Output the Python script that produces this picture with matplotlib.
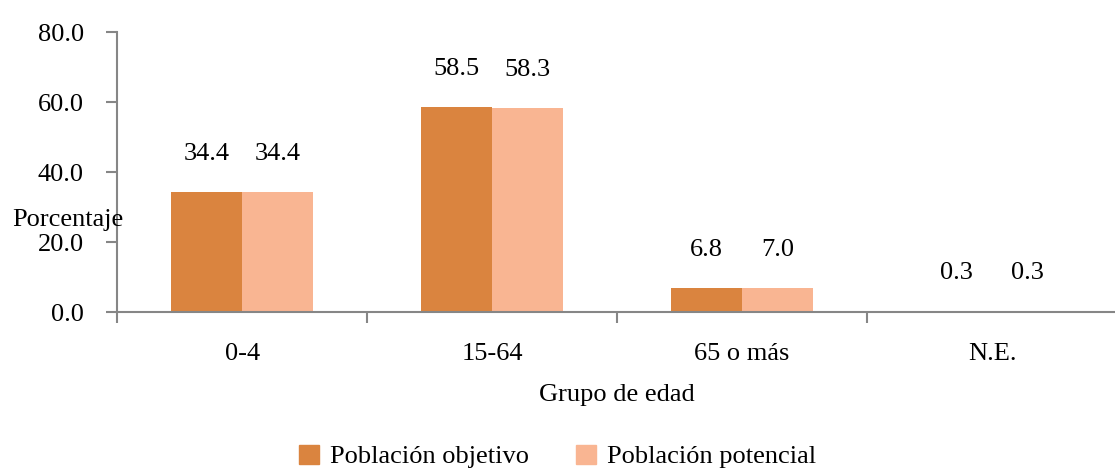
import numpy as np
import matplotlib.pyplot as plt
from matplotlib.patches import Patch

plt.rcParams['font.family'] = ['Liberation Serif', 'DejaVu Serif']

grupos = ['0-4', '15-64', '65 o más', 'N.E.']
objetivo = [34.4, 58.5, 6.8, 0.3]
potencial = [34.4, 58.3, 7.0, 0.3]
series = ['Población objetivo', 'Población potencial']
colores = ['#DA843F', '#F9B592']
yticks = [0, 20, 40, 60, 80]

fs = 19

fig = plt.figure(figsize=(11.15, 4.73), dpi=100)
ax = fig.add_axes([0.105, 0.340, 0.897, 0.592])

x = np.arange(len(grupos))
w = 0.285
b1 = ax.bar(x - w / 2, objetivo, w, color=colores[0])
b2 = ax.bar(x + w / 2, potencial, w, color=colores[1])

# etiquetas con el valor encima de cada barra
for bars, vals in ((b1, objetivo), (b2, potencial)):
    for r, v in zip(bars, vals):
        ax.annotate(f'{v:.1f}', (r.get_x() + r.get_width() / 2, v),
                    xytext=(0, 27), textcoords='offset pixels',
                    ha='center', va='bottom', fontsize=fs)

ax.set_xlim(-0.5, 3.5)
ax.set_ylim(0, 80)
ax.set_yticks(yticks)
ax.set_yticklabels([f'{t:.1f}' for t in yticks])
ax.set_xticks(x)
ax.set_xticklabels(grupos)
ax.set_xticks(np.arange(-0.5, 4, 1), minor=True)

for s in ('top', 'right'):
    ax.spines[s].set_visible(False)
for s in ('left', 'bottom'):
    ax.spines[s].set_color('#868686')
    ax.spines[s].set_linewidth(1.5)

ax.tick_params(axis='y', length=8, width=1.5, color='#868686', labelsize=fs, pad=16)
ax.tick_params(axis='x', which='major', length=0, labelsize=fs, pad=22)
ax.tick_params(axis='x', which='minor', length=8, width=1.5, color='#868686')

ax.set_xlabel('Grupo de edad', fontsize=fs, labelpad=14)
fig.text(68 / 1115, 1 - 220 / 473, 'Porcentaje', fontsize=fs, ha='center', va='center')

handles = [Patch(color=c) for c in colores]
fig.legend(handles, series, loc='center', bbox_to_anchor=(0.5, 0.035), ncol=2,
           frameon=False, fontsize=fs, handlelength=0.75, handleheight=0.75,
           handletextpad=0.4, columnspacing=1.8)

fig.savefig('out.png', dpi=100)
